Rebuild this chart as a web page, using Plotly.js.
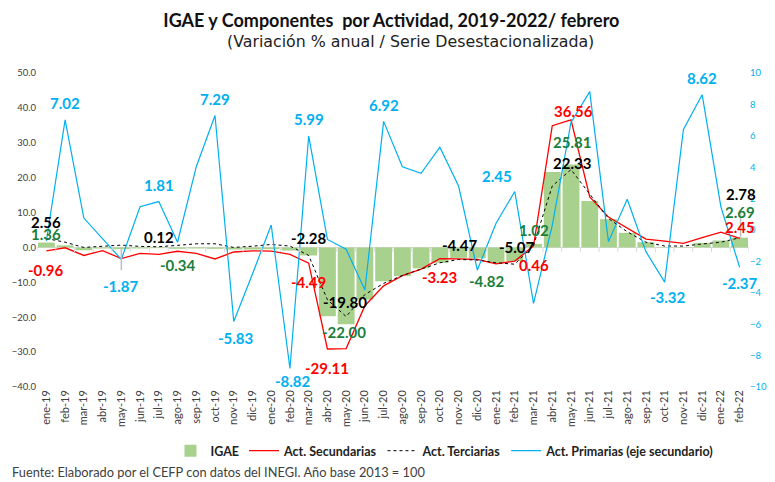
<!DOCTYPE html>
<html>
<head>
<meta charset="utf-8">
<script src="https://cdn.plot.ly/plotly-3.0.1.min.js"></script>
<style>html,body{margin:0;padding:0;background:#fff;}#chart{width:775px;height:482px;}</style>
</head>
<body>
<div id="chart"></div>
<script>
// ---- Data ----
const categories = ["ene-19","feb-19","mar-19","abr-19","may-19","jun-19","jul-19","ago-19","sep-19","oct-19","nov-19","dic-19",
  "ene-20","feb-20","mar-20","abr-20","may-20","jun-20","jul-20","ago-20","sep-20","oct-20","nov-20","dic-20",
  "ene-21","feb-21","mar-21","abr-21","may-21","jun-21","jul-21","ago-21","sep-21","oct-21","nov-21","dic-21",
  "ene-22","feb-22"];

const igae = [1.4, 0.6, -0.8, -0.3, -0.5, -0.3, -0.2, -0.4, -0.3, -0.4, -0.6, -0.6,
  -0.5, -0.9, -2.3, -19.7, -22.0, -14.9, -9.7, -8.2, -6.0, -4.4, -3.0, -3.1,
  -4.5, -3.9, 1.02, 21.6, 23.8, 13.3, 8.1, 4.2, 1.5, 0.1, 0.1, 1.3, 2.0, 2.8];

const secundarias = [-0.96, -0.1, -2.3, -0.9, -3.2, -1.7, -2.0, -1.1, -1.7, -3.3, -1.3, -1.0,
  -1.05, -2.0, -4.49, -29.11, -29.0, -16.7, -11.0, -8.1, -6.2, -3.23, -3.3, -3.45,
  -4.7, -3.9, 0.46, 34.9, 36.56, 14.5, 8.7, 5.5, 2.4, 1.8, 1.15, 2.8, 4.4, 2.6];

const terciarias = [2.56, 1.5, 0.0, 0.3, 0.67, 0.3, 0.2, 0.6, 1.05, 1.05, 0.0, 0.35,
  0.86, 0.4, -2.28, -15.0, -19.8, -13.5, -10.3, -8.05, -6.3, -4.4, -3.45, -3.6,
  -4.4, -4.8, 0.6, 17.6, 22.33, 15.2, 8.3, 4.5, 1.5, 0.4, 0.4, 1.0, 1.5, 2.78];

const primarias = [-0.7, 7.02, 0.76, -0.55, -1.87, 1.48, 1.81, -0.78, 4.03, 7.29, -5.83, -2.8,
  0.32, -8.82, 5.99, -0.6, -1.23, -3.82, 6.92, 4.03, 3.61, 5.27, 2.80, -2.55,
  0.43, 2.45, -4.67, 0.3, 6.85, 8.81, -0.74, 1.96, -1.38, -3.32, 6.41, 8.62, 1.48, -2.37];

const leftTicks = [50, 40, 30, 20, 10, 0, -10, -20, -30, -40];
const rightTicks = [10, 8, 6, 4, 2, 0, -2, -4, -6, -8, -10];

// Labelled points: [category index, label text]
const lblPrimarias   = [[1,"7.02"],[6,"1.81"],[9,"7.29"],[4,"-1.87"],[10,"-5.83"],[14,"5.99"],[13,"-8.82"],[18,"6.92"],[25,"2.45"],[35,"8.62"],[33,"-3.32"],[37,"-2.37"]];
const lblIgae        = [[0,"1.36"],[7,"-0.34"],[16,"-22.00"],[24,"-4.82"],[26,"1.02"],[28,"25.81"],[37,"2.69"]];
const lblTerciarias  = [[0,"2.56"],[6,"0.12"],[14,"-2.28"],[16,"-19.80"],[22,"-4.47"],[25,"-5.07"],[28,"22.33"],[37,"2.78"]];
const lblSecundarias = [[0,"-0.96"],[14,"-4.49"],[15,"-29.11"],[21,"-3.23"],[26,"0.46"],[28,"36.56"],[37,"2.45"]];

// ---- Styling / layout ----
const BLUE = "#00B0F0", RED = "#FF0000", GREEN_BAR = "#A9D18E", GREEN_TXT = "#1A7F3C", BLACK = "#000000";
const FONT = "Lato, 'Open Sans', sans-serif";

// label pixel offsets [xshift, yshift] per labelled point
const offP = {1:[0,17],6:[0,17],9:[0,17],4:[0,-27],10:[2,-16],14:[0,17],13:[3,-13],18:[0,16],25:[-18,16],35:[0,17],33:[3,-15],37:[0,-16]};
const offG = {0:[0,9],7:[0,-16],16:[-2,-8],24:[-9,-18],26:[0,14],28:[1,22],37:[0,26]};
const offT = {0:[0,17],6:[0,10],14:[0,17],16:[-1,15],22:[1,14],25:[2,17],28:[1,7],37:[1,44]};
const offS = {0:[0,-19],14:[0,-19],15:[0,-19],21:[0,-18],26:[0,-19],28:[2,9],37:[0,11]};

const idx = categories.map((c, i) => i);

const traces = [
  {type: "bar", name: "IGAE", x: idx, y: igae, marker: {color: GREEN_BAR}, yaxis: "y"},
  {type: "scatter", mode: "lines", name: "Act. Secundarias", x: idx, y: secundarias, line: {color: RED, width: 1.3}, yaxis: "y"},
  {type: "scatter", mode: "lines", name: "Act. Terciarias", x: idx, y: terciarias, line: {color: BLACK, width: 1, dash: "dot"}, yaxis: "y"},
  {type: "scatter", mode: "lines", name: "Act. Primarias (eje secundario)", x: idx, y: primarias, line: {color: BLUE, width: 1.2}, yaxis: "y2"}
];

function mkLabels(list, series, offs, color, yref) {
  return list.map(([i, t]) => ({
    x: i, y: series[i], xref: "x", yref: yref, text: t, showarrow: false,
    xshift: offs[i][0], yshift: offs[i][1],
    font: {family: FONT, size: 15, color: color, weight: 700}
  }));
}

const annotations = [].concat(
  mkLabels(lblPrimarias, primarias, offP, BLUE, "y2"),
  mkLabels(lblIgae, igae, offG, GREEN_TXT, "y"),
  mkLabels(lblTerciarias, terciarias, offT, BLACK, "y"),
  mkLabels(lblSecundarias, secundarias, offS, RED, "y"),
  [
    {xref: "paper", yref: "paper", x: 0.524, y: 1.099, yanchor: "middle", xanchor: "center", showarrow: false,
     text: "(Variación % anual / Serie Desestacionalizada)", font: {family: "'DejaVu Sans', sans-serif", size: 15.8, color: "#222"}},
    {xref: "paper", yref: "paper", x: -0.038, y: -0.270, xanchor: "left", yanchor: "middle", showarrow: false,
     text: "Fuente: Elaborado por el CEFP con datos del INEGI. Año base 2013 = 100", font: {family: FONT, size: 12.8, color: "#404040"}}
  ]
);

// small tick marks along the zero line at category boundaries, plus label leader lines
const shapes = [];
for (let i = 0; i <= categories.length; i++) {
  shapes.push({type: "line", xref: "x", yref: "y", x0: i - 0.5, x1: i - 0.5, y0: 0, y1: -1.3, line: {color: "#D9D9D9", width: 1}});
}
shapes.push({type: "line", xref: "x", yref: "y", x0: 4, x1: 4, y0: 0, y1: -6.5, line: {color: "#BFBFBF", width: 1.5}});
shapes.push({type: "line", xref: "x", yref: "y", x0: 37.05, x1: 37.05, y0: 2.8, y1: 10, line: {color: "#BFBFBF", width: 1.5}});

const layout = {
  width: 775, height: 482,
  margin: {l: 37, r: 26, t: 73, b: 95},
  paper_bgcolor: "#fff", plot_bgcolor: "#fff",
  showlegend: true,
  bargap: 0.1,
  title: {text: "<b>IGAE y Componentes  por Actividad, 2019-2022/ febrero</b>", x: 0.505, xanchor: "center", y: 0.958, yanchor: "middle",
          font: {family: FONT, size: 18, color: "#111"}},
  xaxis: {
    type: "linear", range: [-0.5, categories.length - 0.5],
    tickmode: "array", tickvals: idx, ticktext: categories, tickangle: -90,
    showgrid: false, zeroline: false, showline: false, ticks: "",
    tickfont: {family: FONT, size: 11, color: "#404040"}
  },
  yaxis: {
    range: [-40, 50], tickmode: "array", tickvals: leftTicks, tickformat: ".1f",
    showgrid: false, zeroline: true, zerolinecolor: "#D9D9D9", zerolinewidth: 1.5, showline: false, ticks: "",
    tickfont: {family: FONT, size: 9.5, color: "#404040"}
  },
  yaxis2: {
    overlaying: "y", side: "right", range: [-10, 10], tickmode: "array", tickvals: rightTicks,
    showgrid: false, zeroline: false, showline: false, ticks: "",
    tickfont: {family: FONT, size: 9.5, color: BLUE}
  },
  legend: {orientation: "h", x: 0.573, xanchor: "center", y: -0.204, yanchor: "middle",
           font: {family: FONT, size: 12.5, color: "#222", weight: 700}, itemwidth: 30, tracegroupgap: 0},
  annotations: annotations,
  shapes: shapes
};

Plotly.newPlot("chart", traces, layout, {displayModeBar: false, staticPlot: true});
</script>
</body>
</html>
